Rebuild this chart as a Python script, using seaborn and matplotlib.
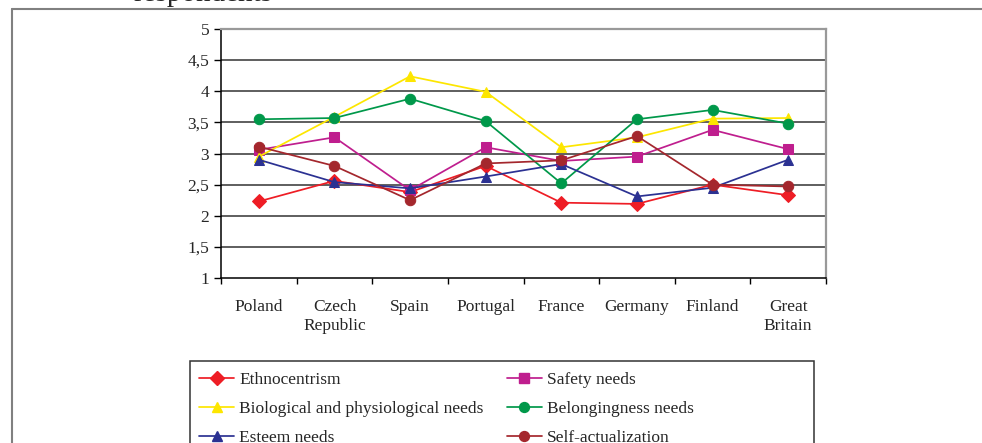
import numpy as np
import pandas as pd
import matplotlib
matplotlib.use("Agg")
import matplotlib.pyplot as plt
from matplotlib.patches import Rectangle
from matplotlib.lines import Line2D
import seaborn as sns

# 데이터
countries = ["Poland", "Czech\nRepublic", "Spain", "Portugal", "France",
             "Germany", "Finland", "Great\nBritain"]
ethnocentrism = [2.23, 2.56, 2.38, 2.80, 2.21, 2.19, 2.50, 2.33]
safety_needs = [3.06, 3.26, 2.41, 3.10, 2.88, 2.95, 3.38, 3.07]
biological_needs = [2.95, 3.59, 4.24, 3.99, 3.10, 3.26, 3.56, 3.57]
belongingness_needs = [3.55, 3.57, 3.88, 3.52, 2.52, 3.55, 3.70, 3.48]
esteem_needs = [2.90, 2.54, 2.44, 2.63, 2.83, 2.31, 2.45, 2.90]
self_actualization = [3.11, 2.80, 2.25, 2.84, 2.89, 3.28, 2.50, 2.47]

series_names = ["Ethnocentrism", "Safety needs",
                "Biological and physiological needs", "Belongingness needs",
                "Esteem needs", "Self-actualization"]
series_values = [ethnocentrism, safety_needs, biological_needs,
                 belongingness_needs, esteem_needs, self_actualization]
series_colors = ["#ee1d25", "#bf1e8e", "#fde600", "#00984a", "#2b3192", "#a4272d"]
series_markers = ["D", "s", "^", "o", "^", "o"]
y_ticks = [1, 1.5, 2, 2.5, 3, 3.5, 4, 4.5, 5]

sns.set_style("white")
plt.rcParams["font.family"] = ["Liberation Serif", "DejaVu Serif"]

W, H = 982, 443
fig = plt.figure(figsize=(W / 100, H / 100), dpi=100)
ax = fig.add_axes([221 / W, 1 - 278 / H, (826 - 221) / W, (278 - 29) / H])

x_idx = np.arange(len(countries))
handles = {}
for name, vals, col, mk in zip(series_names, series_values, series_colors, series_markers):
    msize = 7 if mk == "D" else 7.5
    sns.lineplot(x=x_idx, y=vals, ax=ax, color=col, marker=mk, markersize=msize,
                 markeredgecolor=col, linewidth=1.25, label=name, legend=False, zorder=3)
    handles[name] = Line2D([], [], color=col, marker=mk, markersize=msize * 0.95,
                           markeredgecolor=col, linewidth=1.25)

# 축 설정
ax.set_xlim(-0.5, len(countries) - 0.5)
ax.set_ylim(1, 5)
ax.set_yticks(y_ticks)
ax.set_yticklabels([f"{t:g}".replace(".", ",") for t in y_ticks], fontsize=12.5)
ax.tick_params(axis="y", direction="out", length=5, width=1, pad=3.5, color="black", left=True)
ax.set_xticks(np.arange(len(countries) + 1) - 0.5)
ax.set_xticklabels([])
ax.tick_params(axis="x", which="major", direction="out", length=4, width=1, color="black", bottom=True)
ax.set_xticks(x_idx, minor=True)
ax.set_xticklabels(countries, minor=True, fontsize=12.5, linespacing=1.25)
ax.tick_params(axis="x", which="minor", length=0, pad=15)
ax.set_xlabel("")
ax.set_ylabel("")

for yv in y_ticks[1:-1]:
    ax.axhline(yv, color="#333333", linewidth=1.1, zorder=1)
for side in ["left", "bottom"]:
    ax.spines[side].set_color("black")
    ax.spines[side].set_linewidth(1.1)
for side in ["top", "right"]:
    ax.spines[side].set_color("#999999")
    ax.spines[side].set_linewidth(1.6)

# 범례 (행 우선 순서로 배치)
order = ["Ethnocentrism", "Biological and physiological needs", "Esteem needs",
         "Safety needs", "Belongingness needs", "Self-actualization"]
leg = fig.legend([handles[n] for n in order], order, ncol=2, frameon=False,
                 loc="upper left", bbox_to_anchor=(187 / W, 1 - 360 / H),
                 fontsize=12.5, handlelength=2.0, handletextpad=0.3,
                 columnspacing=1.35, labelspacing=0.72, borderpad=0.2)

# 범례 박스와 바깥 테두리
fig.patches.append(Rectangle((190 / W, -0.2), (814 - 190) / W, 1 - 361 / H + 0.2,
                             transform=fig.transFigure, fill=False,
                             edgecolor="#333333", linewidth=1.1))
fig.add_artist(Line2D([12 / W, 12 / W], [-0.05, 1 - 9 / H], transform=fig.transFigure,
                      color="#808080", linewidth=1.5))
fig.add_artist(Line2D([12 / W, 1.0], [1 - 9 / H, 1 - 9 / H], transform=fig.transFigure,
                      color="#808080", linewidth=1.5))

# 잘린 제목
fig.text(133 / W, 1 - 1 / H, "respondents", fontsize=21, va="baseline", ha="left")

fig.savefig("out.png", dpi=100)
plt.close(fig)
